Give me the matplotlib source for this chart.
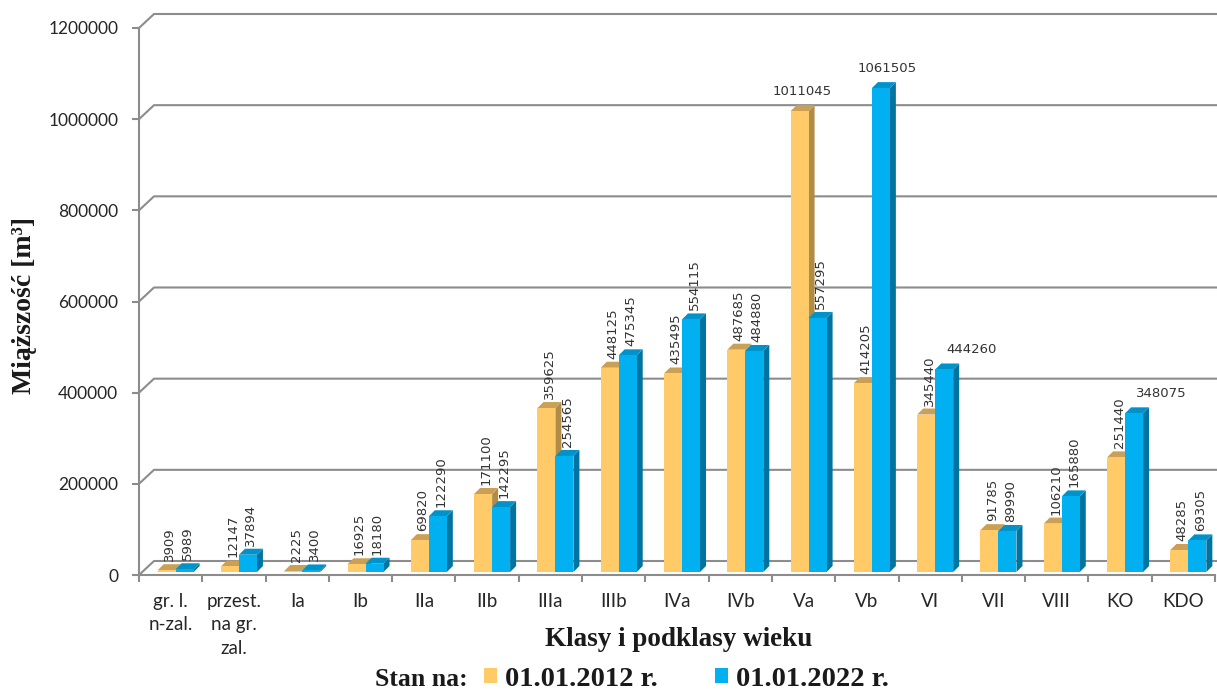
import numpy as np
import matplotlib
matplotlib.use('Agg')
import matplotlib.pyplot as plt
from matplotlib.patches import Polygon, Patch

# data
categories = ['gr. l.\nn-zal.', 'przest.\nna gr.\nzal.', 'Ia', 'Ib', 'IIa', 'IIb', 'IIIa', 'IIIb',
              'IVa', 'IVb', 'Va', 'Vb', 'VI', 'VII', 'VIII', 'KO', 'KDO']
vals_2012 = [3909, 12147, 2225, 16925, 69820, 171100, 359625, 448125,
             435495, 487685, 1011045, 414205, 345440, 91785, 106210, 251440, 48285]
vals_2022 = [5989, 37894, 3400, 18180, 122290, 142295, 254565, 475345,
             554115, 484880, 557295, 1061505, 444260, 89990, 165880, 348075, 69305]
# labels drawn horizontally in the original (series, index)
horiz_labels = {(0, 10), (1, 11), (1, 12), (1, 15)}
series_names = ['01.01.2012 r.', '01.01.2022 r.']

yellow = ('#FFCA67', '#C9A055', '#B08C48')   # front, top, side
blue = ('#00B0F0', '#0092C8', '#0074A0')
grid_col = '#8C8C8C'
serif = ['Liberation Serif', 'DejaVu Serif']
sans = ['Lato', 'DejaVu Sans']

W, H = 1217, 690
fig = plt.figure(figsize=(W / 100, H / 100), dpi=100)
ax = fig.add_axes([139 / W, (H - 575) / H, (1215 - 139) / W, (575 - 28) / H])
n = len(categories)
ax.set_xlim(0, n)
ax.set_ylim(0, 1200000)
ax.patch.set_visible(False)
for s in ['top', 'right']:
    ax.spines[s].set_visible(False)
for s in ['left', 'bottom']:
    ax.spines[s].set_color(grid_col)
    ax.spines[s].set_linewidth(1.5)

# pixel -> data conversion
p0 = ax.transData.transform((0, 0))
p1 = ax.transData.transform((1, 100000))
ux = 1.0 / (p1[0] - p0[0])
uy = 100000.0 / (p1[1] - p0[1])

# back wall gridlines with depth
wall_dx, wall_dy = 15 * ux, 14 * uy
yt = np.arange(0, 1200001, 200000)
for v in yt:
    ax.plot([0, wall_dx, n + wall_dx], [v, v + wall_dy, v + wall_dy],
            color=grid_col, lw=1.5, clip_on=False, zorder=1)

ax.set_yticks(yt)
ax.set_yticklabels([str(v) for v in yt], fontfamily=sans, fontsize=12.5, color='#262626')
ax.tick_params(axis='y', length=5, width=1.5, color=grid_col, pad=10)
ax.set_xticks(np.arange(n + 1))
ax.set_xticklabels([])
ax.tick_params(axis='x', which='major', length=5, width=1.5, color=grid_col)
ax.set_xticks(np.arange(n) + 0.5, minor=True)
ax.set_xticklabels([''] * n, minor=True)
ax.tick_params(axis='x', which='minor', length=0)
# category labels as text, so the line spacing can be set
for i, lab in enumerate(categories):
    ax.annotate(lab, (i + 0.5, 0), xytext=(0, -13), textcoords='offset points',
                ha='center', va='top', fontfamily=sans, fontsize=13.5,
                color='#262626', linespacing=1.45, annotation_clip=False)

# 3d-looking bars
bw = 18 * ux
sh_x, sh_y = 3 * ux, 3 * uy       # bars sit a bit inside the floor
dep_x, dep_y = 6 * ux, 6 * uy     # bar depth
for i in range(n):
    c = i + 0.5 + 2 * ux
    for k, (vals, cols) in enumerate([(vals_2012, yellow), (vals_2022, blue)]):
        h = vals[i]
        x0 = c - bw + k * bw + sh_x
        x1 = x0 + bw
        y0 = sh_y
        y1 = h + sh_y
        front = Polygon([(x0, y0), (x1, y0), (x1, y1), (x0, y1)], closed=True,
                        fc=cols[0], ec='none', clip_on=False, zorder=3)
        top = Polygon([(x0, y1), (x1, y1), (x1 + dep_x, y1 + dep_y), (x0 + dep_x, y1 + dep_y)],
                      closed=True, fc=cols[1], ec='none', clip_on=False, zorder=3)
        side = Polygon([(x1, y0), (x1 + dep_x, y0 + dep_y), (x1 + dep_x, y1 + dep_y), (x1, y1)],
                       closed=True, fc=cols[2], ec='none', clip_on=False, zorder=3)
        for p in (side, top, front):
            ax.add_patch(p)
        lx = (x0 + x1) / 2 + 3 * ux
        if (k, i) in horiz_labels:
            off = 0 if k == 0 or i == 11 else 24 * ux
            ax.text(lx + off + (3 * ux if i == 11 else 0), y1 + 13 * uy, str(h), ha='center', va='bottom',
                    fontsize=9.5, color='#333333', zorder=5)
        else:
            ax.text(lx, y1 + 9 * uy, str(h), rotation=90, ha='center', va='bottom',
                    fontsize=9.5, color='#333333', zorder=5)

# axis titles
fig.text(679 / W, 1 - 640 / H, 'Klasy i podklasy wieku', ha='center', va='center',
         fontfamily=serif, fontweight='bold', fontsize=19.5, color='#1a1a1a')
fig.text(25 / W, 1 - 306 / H, 'Miąższość [m³]', ha='center', va='center', rotation=90,
         fontfamily=serif, fontweight='bold', fontsize=20, color='#1a1a1a')

# legend
fig.text(375 / W, 1 - 679 / H, 'Stan na:', ha='left', va='center',
         fontfamily=serif, fontweight='bold', fontsize=18.5, color='#1a1a1a')
handles = [Patch(fc=yellow[0], ec='none'), Patch(fc=blue[0], ec='none')]
leg = fig.legend(handles, series_names, loc='center left', bbox_to_anchor=(478 / W, 1 - 679 / H),
                 ncol=2, frameon=False, handlelength=0.45, handleheight=0.45, handletextpad=0.3,
                 columnspacing=2.0, borderpad=0.2, borderaxespad=0,
                 prop={'family': serif, 'weight': 'bold', 'size': 20.5})
for t in leg.get_texts():
    t.set_color('#1a1a1a')

fig.savefig('out.png', dpi=100)
